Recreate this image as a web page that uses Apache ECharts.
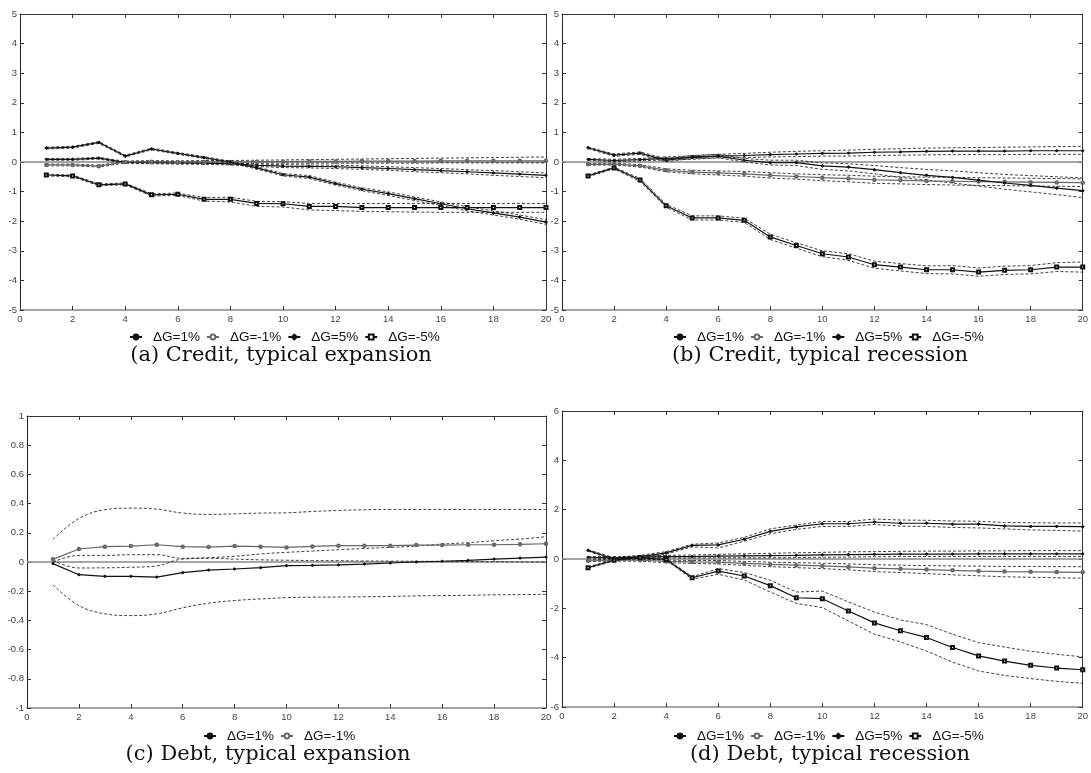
<!DOCTYPE html>
<html>
<head>
<meta charset="utf-8">
<script src="https://cdn.jsdelivr.net/npm/echarts@6/dist/echarts.min.js"></script>
<style>
html,body{margin:0;padding:0;background:#fff;}
#c{width:1091px;height:773px;}
</style>
</head>
<body>
<div id="c"></div>
<script>
// ---- data ----
const steps = [1,2,3,4,5,6,7,8,9,10,11,12,13,14,15,16,17,18,19,20];
const xTicks = [0,2,4,6,8,10,12,14,16,18,20];
const legendNames = ['ΔG=1%','ΔG=-1%','ΔG=5%','ΔG=-5%'];
const captions = ['(a) Credit, typical expansion','(b) Credit, typical recession','(c) Debt, typical expansion','(d) Debt, typical recession'];

// Panel (a) Credit, typical expansion
const a_p1    = [0.09,0.09,0.13,-0.01,-0.02,-0.03,-0.04,-0.06,-0.11,-0.14,-0.15,-0.16,-0.19,-0.22,-0.26,-0.29,-0.33,-0.37,-0.41,-0.45];
const a_p1_hi = [0.12,0.12,0.16,0.02,0.02,0.01,0.00,-0.02,-0.07,-0.09,-0.10,-0.11,-0.13,-0.16,-0.19,-0.22,-0.26,-0.29,-0.33,-0.37];
const a_p1_lo = [0.06,0.06,0.10,-0.04,-0.06,-0.07,-0.08,-0.10,-0.15,-0.19,-0.20,-0.22,-0.25,-0.28,-0.33,-0.36,-0.40,-0.45,-0.49,-0.53];
const a_m1    = [-0.10,-0.10,-0.14,0.00,0.01,0.00,0.00,0.00,0.01,0.01,0.02,0.02,0.03,0.03,0.03,0.04,0.04,0.04,0.04,0.04];
const a_m1_hi = [-0.07,-0.07,-0.11,0.03,0.05,0.04,0.05,0.05,0.06,0.07,0.08,0.09,0.10,0.11,0.12,0.13,0.14,0.15,0.16,0.17];
const a_m1_lo = [-0.13,-0.13,-0.17,-0.03,-0.03,-0.04,-0.05,-0.05,-0.04,-0.04,-0.04,-0.04,-0.04,-0.04,-0.04,-0.03,-0.03,-0.03,-0.03,-0.03];
const a_p5    = [0.47,0.50,0.66,0.20,0.44,0.29,0.15,0.00,-0.20,-0.43,-0.51,-0.73,-0.92,-1.07,-1.24,-1.41,-1.58,-1.72,-1.86,-2.03];
const a_p5_hi = [0.50,0.53,0.69,0.23,0.47,0.32,0.18,0.03,-0.16,-0.39,-0.46,-0.68,-0.87,-1.01,-1.18,-1.35,-1.51,-1.65,-1.79,-1.95];
const a_p5_lo = [0.44,0.47,0.63,0.17,0.41,0.26,0.12,-0.03,-0.24,-0.47,-0.56,-0.78,-0.97,-1.13,-1.30,-1.47,-1.65,-1.79,-1.93,-2.11];
const a_m5    = [-0.44,-0.47,-0.77,-0.74,-1.11,-1.09,-1.26,-1.26,-1.40,-1.41,-1.50,-1.50,-1.54,-1.54,-1.54,-1.54,-1.54,-1.54,-1.54,-1.54];
const a_m5_hi = [-0.41,-0.44,-0.74,-0.71,-1.07,-1.05,-1.20,-1.19,-1.33,-1.34,-1.40,-1.40,-1.40,-1.40,-1.40,-1.40,-1.40,-1.40,-1.40,-1.40];
const a_m5_lo = [-0.47,-0.50,-0.80,-0.77,-1.15,-1.13,-1.32,-1.35,-1.50,-1.52,-1.62,-1.64,-1.67,-1.68,-1.69,-1.70,-1.70,-1.70,-1.70,-1.70];

// Panel (b) Credit, typical recession
const b_p1    = [0.09,0.05,0.08,0.12,0.15,0.20,0.22,0.25,0.27,0.29,0.30,0.33,0.34,0.36,0.37,0.37,0.37,0.38,0.38,0.38];
const b_p1_hi = [0.12,0.09,0.12,0.17,0.21,0.26,0.29,0.33,0.36,0.38,0.40,0.43,0.45,0.47,0.48,0.49,0.50,0.51,0.52,0.53];
const b_p1_lo = [0.06,0.01,0.04,0.07,0.09,0.14,0.15,0.17,0.18,0.20,0.20,0.22,0.23,0.24,0.25,0.25,0.25,0.26,0.26,0.26];
const b_m1    = [-0.08,-0.07,-0.13,-0.28,-0.34,-0.37,-0.40,-0.45,-0.49,-0.53,-0.56,-0.60,-0.62,-0.64,-0.65,-0.66,-0.67,-0.68,-0.69,-0.70];
const b_m1_hi = [-0.05,-0.04,-0.09,-0.23,-0.28,-0.30,-0.32,-0.36,-0.40,-0.43,-0.45,-0.48,-0.50,-0.51,-0.52,-0.53,-0.54,-0.55,-0.56,-0.57];
const b_m1_lo = [-0.11,-0.10,-0.17,-0.33,-0.40,-0.44,-0.48,-0.54,-0.58,-0.63,-0.67,-0.72,-0.74,-0.76,-0.78,-0.79,-0.80,-0.81,-0.82,-0.83];
const b_p5    = [0.48,0.23,0.30,0.06,0.17,0.20,0.06,-0.02,-0.02,-0.13,-0.17,-0.26,-0.36,-0.45,-0.52,-0.61,-0.71,-0.79,-0.88,-0.97];
const b_p5_hi = [0.51,0.27,0.34,0.11,0.22,0.26,0.12,0.06,0.06,-0.03,-0.06,-0.12,-0.19,-0.25,-0.30,-0.36,-0.42,-0.46,-0.50,-0.54];
const b_p5_lo = [0.45,0.19,0.26,0.01,0.12,0.14,0.00,-0.10,-0.12,-0.25,-0.30,-0.40,-0.52,-0.62,-0.71,-0.81,-0.92,-1.01,-1.10,-1.20];
const b_m5    = [-0.47,-0.20,-0.61,-1.48,-1.89,-1.89,-1.97,-2.53,-2.82,-3.10,-3.21,-3.47,-3.55,-3.64,-3.64,-3.72,-3.66,-3.64,-3.55,-3.55];
const b_m5_hi = [-0.44,-0.17,-0.56,-1.43,-1.82,-1.82,-1.90,-2.44,-2.73,-3.00,-3.10,-3.35,-3.43,-3.51,-3.50,-3.58,-3.52,-3.50,-3.40,-3.38];
const b_m5_lo = [-0.50,-0.23,-0.66,-1.53,-1.96,-1.96,-2.04,-2.62,-2.91,-3.20,-3.32,-3.59,-3.68,-3.77,-3.78,-3.86,-3.80,-3.78,-3.70,-3.72];

// Panel (c) Debt, typical expansion
const c_p1    = [-0.011,-0.087,-0.098,-0.098,-0.103,-0.073,-0.055,-0.048,-0.039,-0.025,-0.023,-0.020,-0.014,-0.007,0.000,0.005,0.011,0.020,0.027,0.034];
const c_p1_hi = [0.000,0.045,0.045,0.050,0.050,0.025,0.030,0.039,0.055,0.066,0.075,0.084,0.093,0.100,0.109,0.123,0.132,0.146,0.157,0.173];
const c_p1_lo = [-0.157,-0.298,-0.355,-0.367,-0.355,-0.314,-0.282,-0.264,-0.253,-0.244,-0.241,-0.240,-0.238,-0.236,-0.232,-0.230,-0.228,-0.225,-0.223,-0.221];
const c_m1    = [0.018,0.089,0.105,0.109,0.118,0.105,0.102,0.109,0.105,0.100,0.107,0.112,0.112,0.112,0.116,0.116,0.118,0.118,0.121,0.125];
const c_m1_hi = [0.155,0.298,0.358,0.369,0.362,0.335,0.326,0.330,0.335,0.337,0.346,0.353,0.358,0.360,0.360,0.360,0.360,0.360,0.360,0.360];
const c_m1_lo = [0.010,-0.041,-0.040,-0.036,-0.027,0.020,0.025,0.020,0.015,0.012,0.010,0.009,0.007,0.006,0.005,0.004,0.003,0.002,0.001,0.000];

// Panel (d) Debt, typical recession
const d_p1    = [0.07,0.05,0.08,0.10,0.10,0.12,0.13,0.14,0.15,0.17,0.18,0.19,0.20,0.20,0.20,0.21,0.21,0.21,0.21,0.21];
const d_p1_hi = [0.10,0.09,0.12,0.15,0.16,0.19,0.21,0.23,0.25,0.27,0.29,0.30,0.31,0.32,0.32,0.33,0.33,0.34,0.34,0.34];
const d_p1_lo = [0.04,0.01,0.04,0.05,0.04,0.05,0.05,0.05,0.06,0.07,0.08,0.09,0.10,0.10,0.10,0.10,0.10,0.10,0.10,0.10];
const d_m1    = [-0.07,-0.05,-0.05,-0.10,-0.12,-0.13,-0.18,-0.22,-0.25,-0.28,-0.32,-0.37,-0.40,-0.43,-0.46,-0.49,-0.51,-0.52,-0.53,-0.54];
const d_m1_hi = [-0.04,-0.01,-0.01,-0.05,-0.06,-0.06,-0.10,-0.13,-0.15,-0.17,-0.20,-0.23,-0.25,-0.27,-0.28,-0.29,-0.30,-0.30,-0.31,-0.31];
const d_m1_lo = [-0.10,-0.09,-0.09,-0.15,-0.18,-0.20,-0.26,-0.31,-0.35,-0.39,-0.44,-0.51,-0.55,-0.59,-0.64,-0.68,-0.72,-0.74,-0.76,-0.78];
const d_p5    = [0.35,0.00,0.10,0.25,0.55,0.57,0.80,1.12,1.30,1.43,1.43,1.50,1.45,1.45,1.41,1.41,1.34,1.32,1.32,1.31];
const d_p5_hi = [0.38,0.05,0.15,0.30,0.60,0.65,0.88,1.22,1.38,1.52,1.52,1.62,1.58,1.57,1.54,1.53,1.48,1.47,1.46,1.46];
const d_p5_lo = [0.32,-0.05,0.05,0.20,0.49,0.45,0.72,1.02,1.20,1.32,1.32,1.40,1.33,1.32,1.28,1.26,1.22,1.18,1.16,1.13];
const d_m5    = [-0.35,-0.05,0.05,-0.02,-0.76,-0.49,-0.69,-1.08,-1.57,-1.61,-2.11,-2.59,-2.91,-3.18,-3.59,-3.93,-4.14,-4.31,-4.42,-4.49];
const d_m5_hi = [-0.32,-0.02,0.08,0.01,-0.72,-0.39,-0.55,-0.86,-1.34,-1.30,-1.74,-2.15,-2.47,-2.66,-3.05,-3.39,-3.57,-3.74,-3.86,-3.97];
const d_m5_lo = [-0.38,-0.08,0.02,-0.05,-0.82,-0.62,-0.85,-1.34,-1.80,-1.97,-2.51,-3.05,-3.36,-3.73,-4.18,-4.54,-4.72,-4.85,-4.96,-5.04];

// ---- layout / styles ----
const grids = [
  {left:20,  top:14,  width:526, height:296},
  {left:562, top:14,  width:526, height:296},
  {left:27,  top:416, width:519, height:292},
  {left:562, top:411, width:526, height:296}
];
const yRanges = [
  {min:-5, max:5, interval:1},
  {min:-5, max:5, interval:1},
  {min:-1, max:1, interval:0.2},
  {min:-6, max:6, interval:2}
];
const styles = {
  'ΔG=1%':  {color:'#111', symbol:'circle', size:2.2},
  'ΔG=-1%': {color:'#666', symbol:'emptyCircle', size:2.5},
  'ΔG=5%':  {color:'#111', symbol:'diamond', size:3},
  'ΔG=-5%': {color:'#111', symbol:'emptyRect', size:3}
};
const panels = [
  [['ΔG=1%',a_p1,a_p1_hi,a_p1_lo],['ΔG=-1%',a_m1,a_m1_hi,a_m1_lo],['ΔG=5%',a_p5,a_p5_hi,a_p5_lo],['ΔG=-5%',a_m5,a_m5_hi,a_m5_lo]],
  [['ΔG=1%',b_p1,b_p1_hi,b_p1_lo],['ΔG=-1%',b_m1,b_m1_hi,b_m1_lo],['ΔG=5%',b_p5,b_p5_hi,b_p5_lo],['ΔG=-5%',b_m5,b_m5_hi,b_m5_lo]],
  [['ΔG=1%',c_p1,c_p1_hi,c_p1_lo],['ΔG=-1%',c_m1,c_m1_hi,c_m1_lo]],
  [['ΔG=1%',d_p1,d_p1_hi,d_p1_lo],['ΔG=-1%',d_m1,d_m1_hi,d_m1_lo],['ΔG=5%',d_p5,d_p5_hi,d_p5_lo],['ΔG=-5%',d_m5,d_m5_hi,d_m5_lo]]
];
const legendPos = [
  {left:124, top:325}, {left:668, top:325}, {left:198, top:724}, {left:668, top:724}
];
const captionPos = [[281,356],[820,356],[268,755],[830,755]];

const tickFont = {fontSize:9.5, color:'#444', fontFamily:'Liberation Sans, Arial, sans-serif'};
const pair = arr => steps.map((s,i)=>[s,arr[i]]);

const xAxes = [], yAxes = [], series = [], legends = [], graphics = [];
grids.forEach((g,i)=>{
  xAxes.push({gridIndex:i, type:'value', min:0, max:20, interval:2, position:'bottom',
    axisLine:{show:true, onZero:false, lineStyle:{color:'#888', width:1.5}},
    axisTick:{show:true, inside:true, length:4, lineStyle:{color:'#333'}},
    axisLabel:Object.assign({margin:4, hideOverlap:false}, tickFont),
    splitLine:{show:false}});
  xAxes.push({gridIndex:i, type:'value', min:0, max:20, interval:2, position:'top',
    axisLine:{show:true, onZero:false, lineStyle:{color:'#333', width:1}},
    axisTick:{show:true, inside:true, length:4, lineStyle:{color:'#333'}},
    axisLabel:{show:false}, splitLine:{show:false}});
  const yr = yRanges[i];
  yAxes.push({gridIndex:i, type:'value', min:yr.min, max:yr.max, interval:yr.interval, position:'left',
    axisLine:{show:true, onZero:false, lineStyle:{color:'#222', width:1}},
    axisTick:{show:true, inside:true, length:4, lineStyle:{color:'#333'}},
    axisLabel:Object.assign({margin:3, formatter:v=>String(Math.round(v*10)/10)}, tickFont),
    splitLine:{show:false}});
  yAxes.push({gridIndex:i, type:'value', min:yr.min, max:yr.max, interval:yr.interval, position:'right',
    axisLine:{show:true, onZero:false, lineStyle:{color:'#333', width:1}},
    axisTick:{show:true, inside:true, length:4, lineStyle:{color:'#333'}},
    axisLabel:{show:false}, splitLine:{show:false}});

  const names = [];
  panels[i].forEach((p,k)=>{
    const [name, line, hi, lo] = p;
    const st = styles[name];
    names.push(name);
    [hi, lo].forEach(b=>{
      series.push({type:'line', xAxisIndex:2*i, yAxisIndex:2*i, data:pair(b), symbol:'none',
        smooth: i===2 ? 0.4 : false, silent:true,
        lineStyle:{color:'#111', width:0.8, type:[3,2]}, z:2});
    });
    const s = {type:'line', name:name, xAxisIndex:2*i, yAxisIndex:2*i, data:pair(line),
      symbol:st.symbol, symbolSize:st.size, showSymbol:true,
      lineStyle:{color:st.color, width:1.2}, itemStyle:{color:st.color, borderColor:st.color, borderWidth:1},
      z:3, silent:true};
    if (k===0) {
      s.markLine = {silent:true, symbol:['none','none'], label:{show:false},
        lineStyle:{color:'#888', width:1.5, type:'solid'}, data:[{yAxis:0}], z:1, animation:false};
    }
    series.push(s);
  });
  legends.push({data:names, left:legendPos[i].left, top:legendPos[i].top, orient:'horizontal',
    itemWidth:12, itemHeight:6, itemGap:6, selectedMode:false,
    textStyle:{fontSize:13.5, color:'#111', fontFamily:'Liberation Sans, Arial, sans-serif', padding:[0,0,0,6]}});
  graphics.push({type:'text', x:captionPos[i][0], y:captionPos[i][1],
    style:{text:captions[i], fontSize:21, fontFamily:'DejaVu Serif, serif', fill:'#111',
      textAlign:'center', textVerticalAlign:'middle'}});
});

const chart = echarts.init(document.getElementById('c'), null, {renderer:'canvas'});
chart.setOption({
  animation:false,
  backgroundColor:'#fff',
  grid:grids,
  xAxis:xAxes,
  yAxis:yAxes,
  legend:legends,
  series:series,
  graphic:graphics
});
</script>
</body>
</html>
